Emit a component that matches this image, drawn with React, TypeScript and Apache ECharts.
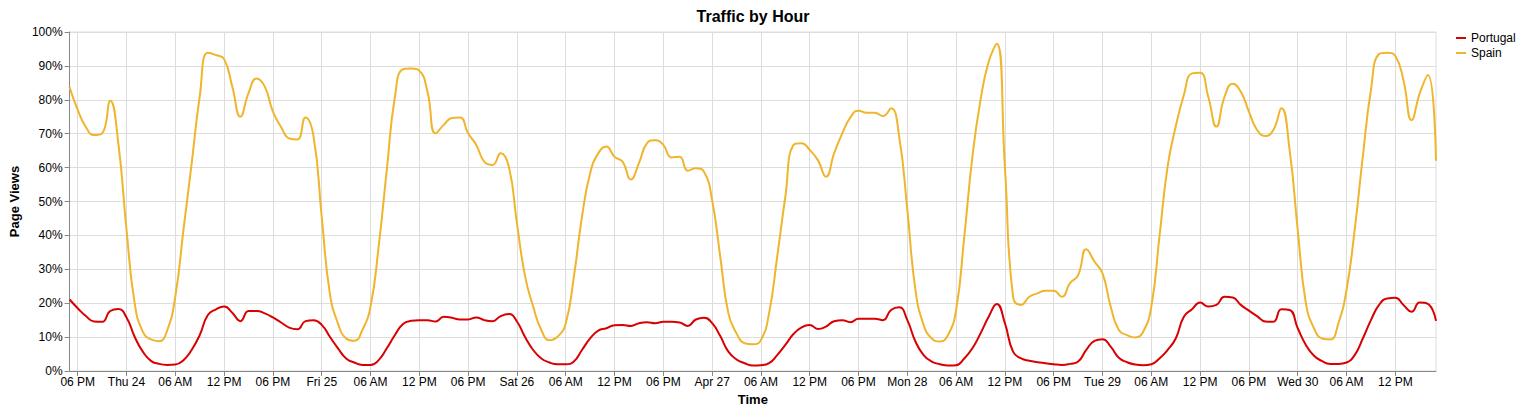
import { useEffect, useRef } from 'react'
import * as echarts from 'echarts'

// hourly samples, first one is Wed Apr 23 2025 17:00
const START_UTC = Date.UTC(2025, 3, 23, 17)
const HOURS = 169

const portugal = [
  21.1, 18.5, 16.2, 14.6, 14.5, 17.7, 18.3, 15.8, 10.1, 5.7, 3, 2.1, 1.8, 1.9, 3.2, 6.2, 10.6, 16.5, 18.2, 19,
  17.2, 14.7, 17.7, 17.7, 17, 15.8, 14.3, 12.8, 12.3,
  14.7, 15, 13.6, 10.1, 6.7, 3.7, 2.5, 1.8, 1.8, 3.2, 6.7, 10.6, 13.9, 14.8, 15, 15, 14.6, 16, 15.7, 15.2,
  15.2, 15.8, 15, 14.7, 16.2, 16.8, 14.6, 10,
  6.2, 3.7, 2.5, 2, 2, 2.8, 6.2, 9.6, 11.9, 12.6, 13.5, 13.6, 13.3, 14.1, 14.4, 14.1, 14.5, 14.5, 14.3, 13.3,
  15.2, 15.7, 14.1, 10.3, 5.7, 3.4, 2.3, 1.6,
  1.7, 2.3, 4.7, 7.7, 10.9, 12.9, 13.6, 12.4, 13.1, 14.7, 15, 14.4, 15.4, 15.4, 15.4, 15, 18, 18.8, 15, 8.7,
  4.7, 2.8, 2, 1.6, 1.7, 3.7, 6.7, 11.1,
  16, 19.8, 14.1, 5.7, 3.7, 3, 2.6, 2.3, 2, 1.8, 2.1, 2.8, 6.2, 8.9, 9.4, 7.2, 3.9, 2.6, 1.9, 1.7,
  2, 3.7, 6.2, 9.6, 16, 18.2, 20.2, 19,
  19.5, 21.9, 21.7, 19.5, 17.8, 16.2, 14.6, 14.5, 18.2, 18, 12.6, 7.7, 4.5, 2.9, 2.1, 2.1, 2.5, 4.7, 9.6, 15,
  19.5, 21.4, 21.6, 19.5, 17.5, 20.2, 19.8, 14.8,
]

const spain = [
  83.7, 77, 72, 69.6, 70.1, 79.7, 67, 41.6, 20, 11.6, 9.3, 8.8, 12, 22, 41.6, 61, 81, 93.9, 93.2, 92,
  83.9, 75, 82, 86.3, 83.9, 76.5, 72, 68.6, 68.3,
  74.8, 69.1, 45.5, 22.9, 14, 9.6, 8.9, 12.1, 19, 36.7, 59.3, 80.9, 89, 89.2, 88.6, 82.4, 70.1, 72.6, 74.6, 74.8,
  70.1, 66.7, 61.7, 60.8, 64.2, 60.3, 43.6, 28,
  19, 12.1, 9.1, 10.1, 14, 27.8, 45.5, 58.3, 64.2, 66.2, 63.2, 61.7, 56.5, 61.3, 67.2, 68.1, 66.7, 63, 63.2, 59.1,
  59.8, 58.8, 50.4, 33.7, 17, 11.1, 8.2, 7.9,
  9.1, 17, 33.7, 51.4, 66.7, 67.2, 65.2, 62.2, 57.3, 64.2, 70.1, 74.8, 76.8, 76.2, 76.2, 75.2, 77.5, 69.1, 47.5, 23.9,
  13.6, 9.6, 8.7, 10.6, 18, 39.6, 63.2, 80,
  91.2, 96.5, 60, 21.9, 19.5, 21.9, 22.9, 23.7, 23.7, 21.9, 25.9, 28.3, 35.9, 32.3, 28.8, 19, 12.1, 10.6, 9.9, 11.6,
  19, 39.6, 60.3, 72.1, 81.4, 87.8, 88, 80.9,
  72.1, 80.9, 84.7, 82.4, 76.5, 71.1, 69.3, 71.1, 77.5, 65.2, 41.6, 20, 12.6, 9.6, 9.3, 14.1, 23.9, 41.6, 63.2, 82.9,
  93.5, 93.9, 92.9, 85.8, 74, 81.9, 87.3, 62,
]

const DAYS = ['Sun', 'Mon', 'Tue', 'Wed', 'Thu', 'Fri', 'Sat']
const MONTHS = ['Jan', 'Feb', 'Mar', 'Apr', 'May', 'Jun', 'Jul', 'Aug', 'Sep', 'Oct', 'Nov', 'Dec']

const hours = Array.from({ length: HOURS }, (_, i) => START_UTC + i * 3600 * 1000)

const FONT = 'Liberation Sans, Arial, Helvetica, sans-serif'

function tickLabel(ts: number) {
  const d = new Date(ts)
  const h = d.getUTCHours()
  if (h === 0) {
    if (d.getUTCDay() === 0) return `${MONTHS[d.getUTCMonth()]} ${d.getUTCDate()}`
    return `${DAYS[d.getUTCDay()]} ${d.getUTCDate()}`
  }
  const h12 = h % 12 === 0 ? 12 : h % 12
  return `${String(h12).padStart(2, '0')} ${h < 12 ? 'AM' : 'PM'}`
}

const onSixHour = (index: number) => new Date(hours[index]).getUTCHours() % 6 === 0

export default function App() {
  const chartRef = useRef<HTMLDivElement>(null)

  useEffect(() => {
    if (!chartRef.current) return
    const chart = echarts.init(chartRef.current, null, { renderer: 'svg' })

    chart.setOption({
      animation: false,
      color: ['#d80000', '#efb52c'],
      title: {
        text: 'Traffic by Hour',
        left: 748,
        top: 3,
        textAlign: 'center',
        textStyle: { fontFamily: FONT, fontSize: 16, fontWeight: 'bold', color: '#000' },
      },
      legend: {
        orient: 'vertical',
        left: 1456,
        top: 32,
        padding: 0,
        itemGap: 3,
        itemWidth: 10,
        itemHeight: 2,
        icon: 'rect',
        textStyle: { fontFamily: FONT, fontSize: 12, color: '#000' },
        data: ['Portugal', 'Spain'],
      },
      grid: {
        left: 60,
        right: 91,
        top: 32,
        bottom: 40,
        show: true,
        borderColor: '#ddd',
        borderWidth: 1,
      },
      xAxis: {
        type: 'category',
        data: hours,
        boundaryGap: false,
        name: 'Time',
        nameLocation: 'middle',
        nameGap: 21,
        nameTextStyle: { fontFamily: FONT, fontSize: 13, fontWeight: 'bold', color: '#000' },
        axisLine: { lineStyle: { color: '#888' } },
        axisTick: { interval: onSixHour, length: 5, lineStyle: { color: '#888' } },
        axisLabel: {
          interval: onSixHour,
          formatter: (v: string) => tickLabel(Number(v)),
          fontFamily: FONT,
          fontSize: 12,
          color: '#000',
          margin: 5,
        },
        splitLine: { show: true, interval: onSixHour, lineStyle: { color: '#ddd' } },
      },
      yAxis: {
        type: 'value',
        min: 0,
        max: 100,
        interval: 10,
        name: 'Page Views',
        nameLocation: 'middle',
        nameGap: 45,
        nameTextStyle: { fontFamily: FONT, fontSize: 13, fontWeight: 'bold', color: '#000' },
        axisLine: { show: true, lineStyle: { color: '#888' } },
        axisTick: { show: true, length: 5, lineStyle: { color: '#888' } },
        axisLabel: { formatter: '{value}%', fontFamily: FONT, fontSize: 12, color: '#000', margin: 7 },
        splitLine: { show: true, lineStyle: { color: '#ddd' } },
      },
      series: [
        {
          name: 'Portugal',
          type: 'line',
          data: portugal,
          smooth: 0.5,
          showSymbol: false,
          lineStyle: { width: 2 },
        },
        {
          name: 'Spain',
          type: 'line',
          data: spain,
          smooth: 0.5,
          showSymbol: false,
          lineStyle: { width: 2 },
        },
      ],
    })

    return () => chart.dispose()
  }, [])

  return (
    <div
      ref={chartRef}
      style={{ position: 'absolute', left: 0, top: 0, width: '1527px', height: '411px' }}
    />
  )
}
